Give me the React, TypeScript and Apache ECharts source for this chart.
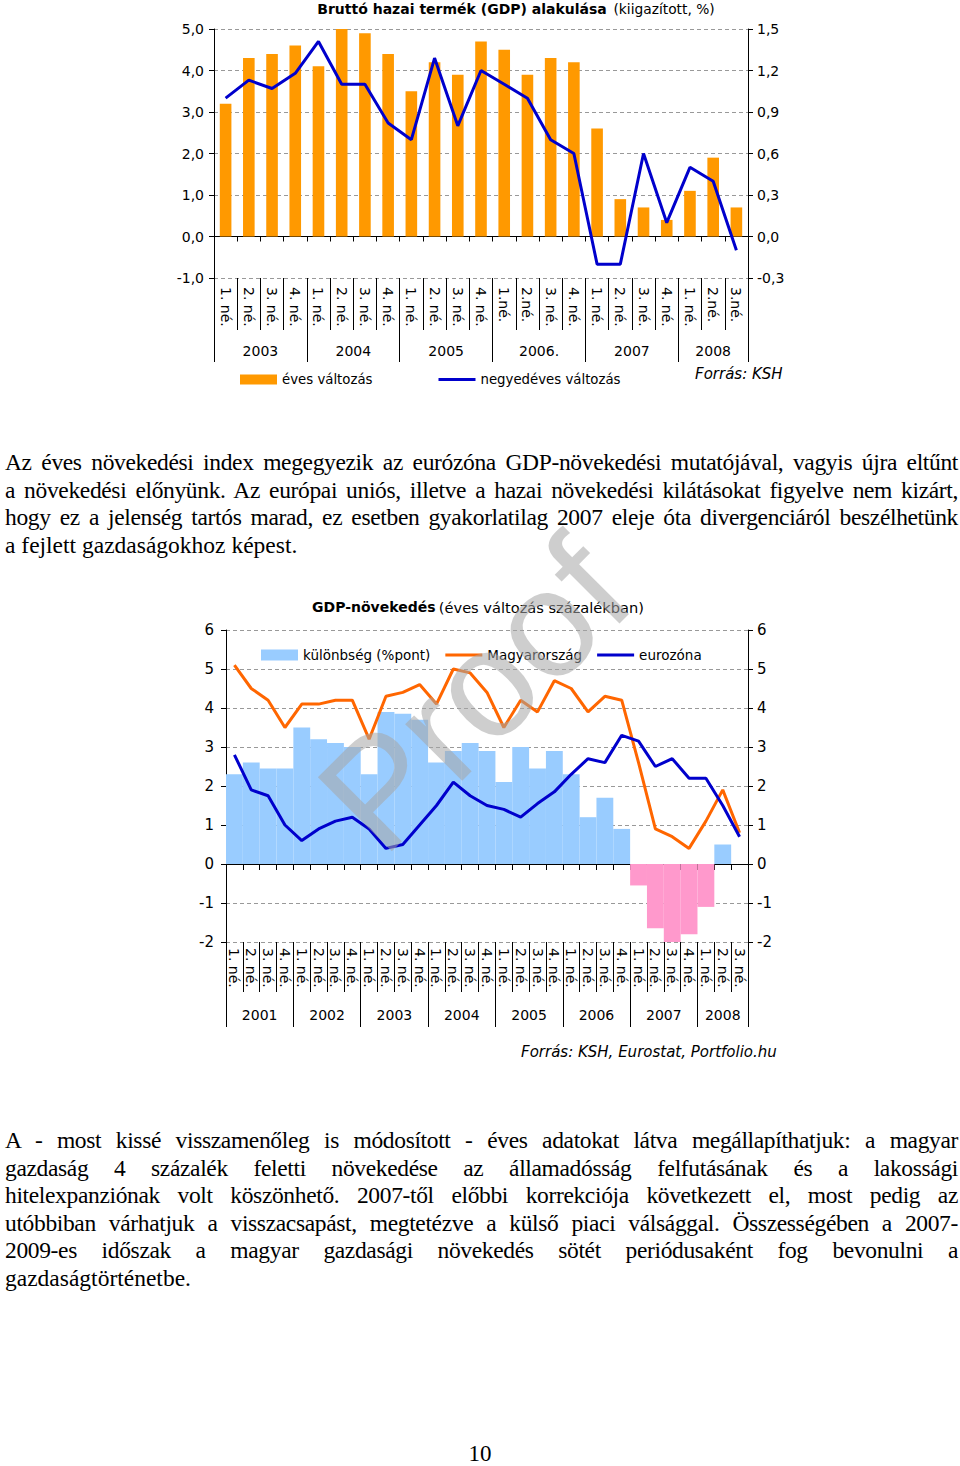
import React, { useEffect, useRef } from 'react';
import * as echarts from 'echarts';

// ---------- Chart 1: Bruttó hazai termék (GDP) alakulása ----------
const quarterLabels1 = [
  '1. né.', '2. né.', '3. né.', '4. né.', // 2003
  '1. né.', '2. né.', '3. né.', '4. né.', // 2004
  '1. né.', '2. né.', '3. né.', '4. né.', // 2005
  '1.né.', '2.né.', '3. né.', '4. né.', // 2006
  '1. né.', '2. né.', '3. né.', '4. né.', // 2007
  '1. né.', '2.né.', '3.né.', // 2008
];
const yearLabels1 = ['2003', '2004', '2005', '2006.', '2007', '2008'];
const yearSpans1 = [4, 4, 4, 4, 4, 3];
const annualChange = [3.2, 4.3, 4.4, 4.6, 4.1, 5.0, 4.9, 4.4, 3.5, 4.2, 3.9, 4.7, 4.5, 3.9, 4.3, 4.2, 2.6, 0.9, 0.7, 0.4, 1.1, 1.9, 0.7];
const quarterlyChange = [1.0, 1.13, 1.07, 1.18, 1.41, 1.1, 1.1, 0.82, 0.7, 1.29, 0.8, 1.2, 1.1, 1.0, 0.7, 0.6, -0.2, -0.2, 0.6, 0.1, 0.5, 0.4, -0.1];

// ---------- Chart 2: GDP-növekedés ----------
const quarterLabels2 = [
  '1. né.', '2. né.', '3. né.', '4. né.', // 2001
  '1. né.', '2. né.', '3. né.', '4. né.', // 2002
  '1. né.', '2. né.', '3. né.', '4. né.', // 2003
  '1. né.', '2. né.', '3. né.', '4. né.', // 2004
  '1. né.', '2. né.', '3. né.', '4. né.', // 2005
  '1. né.', '2. né.', '3. né.', '4. né.', // 2006
  '1. né.', '2. né.', '3. né.', '4. né.', // 2007
  '1. né.', '2. né.', '3. né.', // 2008
];
const yearLabels2 = ['2001', '2002', '2003', '2004', '2005', '2006', '2007', '2008'];
const yearSpans2 = [4, 4, 4, 4, 4, 4, 4, 3];
const hungary = [5.1, 4.5, 4.2, 3.5, 4.1, 4.1, 4.2, 4.2, 3.2, 4.3, 4.4, 4.6, 4.1, 5.0, 4.9, 4.4, 3.5, 4.2, 3.9, 4.7, 4.5, 3.9, 4.3, 4.2, 2.6, 0.9, 0.7, 0.4, 1.1, 1.9, 0.8];
const euroArea = [2.8, 1.9, 1.75, 1.0, 0.6, 0.9, 1.1, 1.2, 0.9, 0.4, 0.5, 1.0, 1.5, 2.1, 1.75, 1.5, 1.4, 1.2, 1.55, 1.85, 2.3, 2.7, 2.6, 3.3, 3.15, 2.5, 2.7, 2.2, 2.2, 1.5, 0.7];
const difference = [2.3, 2.6, 2.45, 2.45, 3.5, 3.2, 3.1, 3.0, 2.3, 3.9, 3.85, 3.7, 2.6, 2.9, 3.1, 2.9, 2.1, 3.0, 2.45, 2.9, 2.3, 1.2, 1.7, 0.9, -0.55, -1.65, -2.0, -1.8, -1.1, 0.5, 0];

// ---------- Text ----------
const paragraph1 = [
  'Az éves növekedési index megegyezik az eurózóna GDP-növekedési mutatójával, vagyis újra eltűnt',
  'a növekedési előnyünk. Az európai uniós, illetve a hazai növekedési kilátásokat figyelve nem kizárt,',
  'hogy ez a jelenség tartós marad, ez esetben gyakorlatilag 2007 eleje óta divergenciáról beszélhetünk',
  'a fejlett gazdaságokhoz képest.',
];
const paragraph2 = [
  'A - most kissé visszamenőleg is módosított - éves adatokat látva megállapíthatjuk: a magyar',
  'gazdaság 4 százalék feletti növekedése az államadósság felfutásának és a lakossági',
  'hitelexpanziónak volt köszönhető. 2007-től előbbi korrekciója következett el, most pedig az',
  'utóbbiban várhatjuk a visszacsapást, megtetézve a külső piaci válsággal. Összességében a 2007-',
  '2009-es időszak a magyar gazdasági növekedés sötét periódusaként fog bevonulni a',
  'gazdaságtörténetbe.',
];
const pageNumber = '10';

const SANS = "'DejaVu Sans', sans-serif";
const ARIAL = "'Liberation Sans', Arial, sans-serif";
const SERIF = "'Liberation Serif', 'Times New Roman', serif";
const LINE_ICON = 'path://M0,0 L37,0 L37,3.2 L0,3.2 Z';

function bounds(spans: number[]) {
  const out = [0];
  spans.forEach((s) => out.push(out[out.length - 1] + s));
  return out;
}
function centers(spans: number[]) {
  const b = bounds(spans);
  return spans.map((s, i) => b[i] + s / 2);
}

const comma1 = (v: number) => v.toFixed(1).replace('.', ',');

function buildOption() {
  const yb1 = bounds(yearSpans1);
  const yc1 = centers(yearSpans1);
  const yb2 = bounds(yearSpans2);
  const yc2 = centers(yearSpans2);
  const black = { color: '#000', width: 1 };
  const dashed = { color: '#999', width: 1, type: [4, 3] as any };

  return {
    animation: false,
    grid: [
      { left: 214, top: 29, width: 534, height: 249 },
      { left: 226, top: 630, width: 522, height: 312 },
    ],
    xAxis: [
      {
        type: 'category', gridIndex: 0, data: quarterLabels1, position: 'bottom',
        axisLine: { show: false, onZero: false },
        axisTick: { show: true, interval: 0, length: 52, lineStyle: black },
        axisLabel: { interval: 0, rotate: -90, margin: 9, fontSize: 14, color: '#000', fontFamily: SANS },
        splitLine: { show: false },
      },
      {
        type: 'category', gridIndex: 0, data: quarterLabels1, position: 'bottom',
        axisLine: { show: true, onZero: true, lineStyle: black },
        axisTick: { show: true, interval: 0, length: 5, lineStyle: black },
        axisLabel: { show: false },
        splitLine: { show: false },
      },
      {
        type: 'value', gridIndex: 0, min: 0, max: yb1[yb1.length - 1], position: 'bottom',
        axisLine: { show: false, onZero: false },
        axisTick: { show: true, customValues: yb1, length: 84, lineStyle: black },
        axisLabel: {
          show: true, customValues: yc1, margin: 66, fontSize: 14, color: '#000', fontFamily: SANS,
          formatter: (v: number) => yearLabels1[yc1.indexOf(v)] ?? '',
        },
        splitLine: { show: false },
      },
      {
        type: 'category', gridIndex: 1, data: quarterLabels2, position: 'bottom',
        axisLine: { show: false, onZero: false },
        axisTick: { show: true, interval: 0, length: 50, lineStyle: black },
        axisLabel: { interval: 0, rotate: -90, margin: 6, fontSize: 14, color: '#000', fontFamily: SANS },
        splitLine: { show: false },
      },
      {
        type: 'category', gridIndex: 1, data: quarterLabels2, position: 'bottom',
        axisLine: { show: true, onZero: true, lineStyle: black },
        axisTick: { show: true, interval: 0, length: 6, lineStyle: black },
        axisLabel: { show: false },
        splitLine: { show: false },
      },
      {
        type: 'value', gridIndex: 1, min: 0, max: yb2[yb2.length - 1], position: 'bottom',
        axisLine: { show: false, onZero: false },
        axisTick: { show: true, customValues: yb2, length: 85, lineStyle: black },
        axisLabel: {
          show: true, customValues: yc2, margin: 66, fontSize: 14, color: '#000', fontFamily: SANS,
          formatter: (v: number) => yearLabels2[yc2.indexOf(v)] ?? '',
        },
        splitLine: { show: false },
      },
    ],
    yAxis: [
      {
        type: 'value', gridIndex: 0, position: 'left', min: -1, max: 5, interval: 1,
        axisLine: { show: true, onZero: false, lineStyle: black },
        axisTick: { show: true, length: 5, lineStyle: black },
        axisLabel: { formatter: comma1, fontSize: 14, color: '#000', margin: 10, fontFamily: SANS },
        splitLine: { show: true, lineStyle: dashed },
      },
      {
        type: 'value', gridIndex: 0, position: 'right', min: -0.3, max: 1.5, interval: 0.3,
        axisLine: { show: true, onZero: false, lineStyle: black },
        axisTick: { show: true, length: 5, lineStyle: black },
        axisLabel: { formatter: comma1, fontSize: 14, color: '#000', margin: 9, fontFamily: SANS },
        splitLine: { show: false },
      },
      {
        type: 'value', gridIndex: 1, position: 'left', min: -2, max: 6, interval: 1,
        axisLine: { show: true, onZero: false, lineStyle: black },
        axisTick: { show: true, length: 5, lineStyle: black },
        axisLabel: { fontSize: 15, color: '#000', margin: 12, fontFamily: SANS },
        splitLine: { show: true, lineStyle: dashed },
      },
      {
        type: 'value', gridIndex: 1, position: 'right', min: -2, max: 6, interval: 1,
        axisLine: { show: true, onZero: false, lineStyle: black },
        axisTick: { show: true, length: 5, lineStyle: black },
        axisLabel: { fontSize: 15, color: '#000', margin: 9, fontFamily: SANS },
        splitLine: { show: false },
      },
    ],
    legend: [
      {
        data: [{ name: 'éves változás', icon: 'rect' }, { name: 'negyedéves változás', icon: LINE_ICON }],
        left: 235, top: 368, itemWidth: 37, itemHeight: 10, itemGap: 66, symbolKeepAspect: true,
        textStyle: { fontSize: 13.3, color: '#000', fontFamily: SANS },
      },
      {
        data: [{ name: 'különbség (%pont)', icon: 'rect' }, { name: 'Magyarország', icon: LINE_ICON }, { name: 'eurozóna', icon: LINE_ICON }],
        left: 256, top: 643, itemWidth: 37, itemHeight: 11, itemGap: 15, symbolKeepAspect: true,
        textStyle: { fontSize: 13.5, color: '#000', fontFamily: SANS },
      },
    ],
    series: [
      {
        type: 'bar', name: 'éves változás', xAxisIndex: 0, yAxisIndex: 0, data: annualChange,
        barWidth: '50%', itemStyle: { color: '#FF9900' },
      },
      {
        type: 'line', name: 'negyedéves változás', xAxisIndex: 0, yAxisIndex: 1, data: quarterlyChange,
        symbol: 'none', lineStyle: { color: '#0000CC', width: 3 }, itemStyle: { color: '#0000CC' },
      },
      {
        type: 'bar', name: 'különbség (%pont)', xAxisIndex: 3, yAxisIndex: 2,
        data: difference.map((v) => (v < 0 ? { value: v, itemStyle: { color: '#FF99CC' } } : v)),
        barWidth: '100%', itemStyle: { color: '#99CCFF' },
      },
      {
        type: 'line', name: 'Magyarország', xAxisIndex: 3, yAxisIndex: 2, data: hungary,
        symbol: 'none', lineStyle: { color: '#FF6600', width: 3 }, itemStyle: { color: '#FF6600' },
      },
      {
        type: 'line', name: 'eurozóna', xAxisIndex: 3, yAxisIndex: 2, data: euroArea,
        symbol: 'none', lineStyle: { color: '#0000CC', width: 3 }, itemStyle: { color: '#0000CC' },
      },
    ],
    graphic: [
      {
        type: 'text', x: 516, y: 9,
        style: {
          text: '{b|Bruttó hazai termék (GDP) alakulása}  {n|(kiigazított, %)}',
          rich: {
            b: { fontFamily: SANS, fontWeight: 'bold', fontSize: 14, fill: '#000' },
            n: { fontFamily: SANS, fontSize: 13.8, fill: '#000' },
          },
          align: 'center', verticalAlign: 'middle',
        },
      },
      {
        type: 'text', x: 695, y: 374,
        style: { text: 'Forrás: KSH', fontFamily: SANS, fontStyle: 'italic', fontSize: 15, fill: '#000', align: 'left', verticalAlign: 'middle' },
      },
      {
        type: 'text', x: 478, y: 607,
        style: {
          text: '{b|GDP-növekedés} {n|(éves változás százalékban)}',
          rich: {
            b: { fontFamily: SANS, fontWeight: 'bold', fontSize: 14, fill: '#000' },
            n: { fontFamily: SANS, fontSize: 14.6, fill: '#000' },
          },
          align: 'center', verticalAlign: 'middle',
        },
      },
      {
        type: 'text', x: 521, y: 1052,
        style: { text: 'Forrás: KSH, Eurostat, Portfolio.hu', fontFamily: SANS, fontStyle: 'italic', fontSize: 15, fill: '#000', align: 'left', verticalAlign: 'middle' },
      },
      {
        type: 'text', x: 474, y: 694, rotation: Math.PI / 4, z: 100,
        style: { text: 'Proof', fontFamily: ARIAL, fontSize: 152, fill: 'rgba(165,165,165,0.55)', align: 'center', verticalAlign: 'middle' },
      },
    ],
  };
}

function TextLine({ text, y, last }: { text: string; y: number; last: boolean }) {
  return (
    <div
      style={{
        position: 'absolute', left: 5, width: 953, top: y - 14, height: 28, lineHeight: '28px',
        fontFamily: SERIF, fontSize: 23.5, color: '#000', whiteSpace: 'nowrap',
        letterSpacing: last ? 0 : '-0.35px',
        textAlign: last ? 'left' : 'justify', textAlignLast: last ? 'left' : 'justify',
      } as React.CSSProperties}
    >
      {text}
    </div>
  );
}

export default function App() {
  const ref = useRef<HTMLDivElement>(null);
  useEffect(() => {
    if (!ref.current) return;
    const chart = echarts.init(ref.current, null, { renderer: 'svg' });
    chart.setOption(buildOption() as any);
    return () => chart.dispose();
  }, []);

  const step = 27.5;
  return (
    <div style={{ position: 'absolute', left: 0, top: 0, width: 960, height: 1466, background: '#fff', overflow: 'hidden' }}>
      {paragraph1.map((t, i) => (
        <TextLine key={'a' + i} text={t} y={462 + i * step} last={i === paragraph1.length - 1} />
      ))}
      {paragraph2.map((t, i) => (
        <TextLine key={'b' + i} text={t} y={1140 + i * step} last={i === paragraph2.length - 1} />
      ))}
      <div style={{ position: 'absolute', left: 430, width: 100, top: 1440, height: 28, lineHeight: '28px', textAlign: 'center', fontFamily: SERIF, fontSize: 23, color: '#000' }}>
        {pageNumber}
      </div>
      <div ref={ref} style={{ position: 'absolute', left: 0, top: 0, width: 960, height: 1100 }} />
    </div>
  );
}
